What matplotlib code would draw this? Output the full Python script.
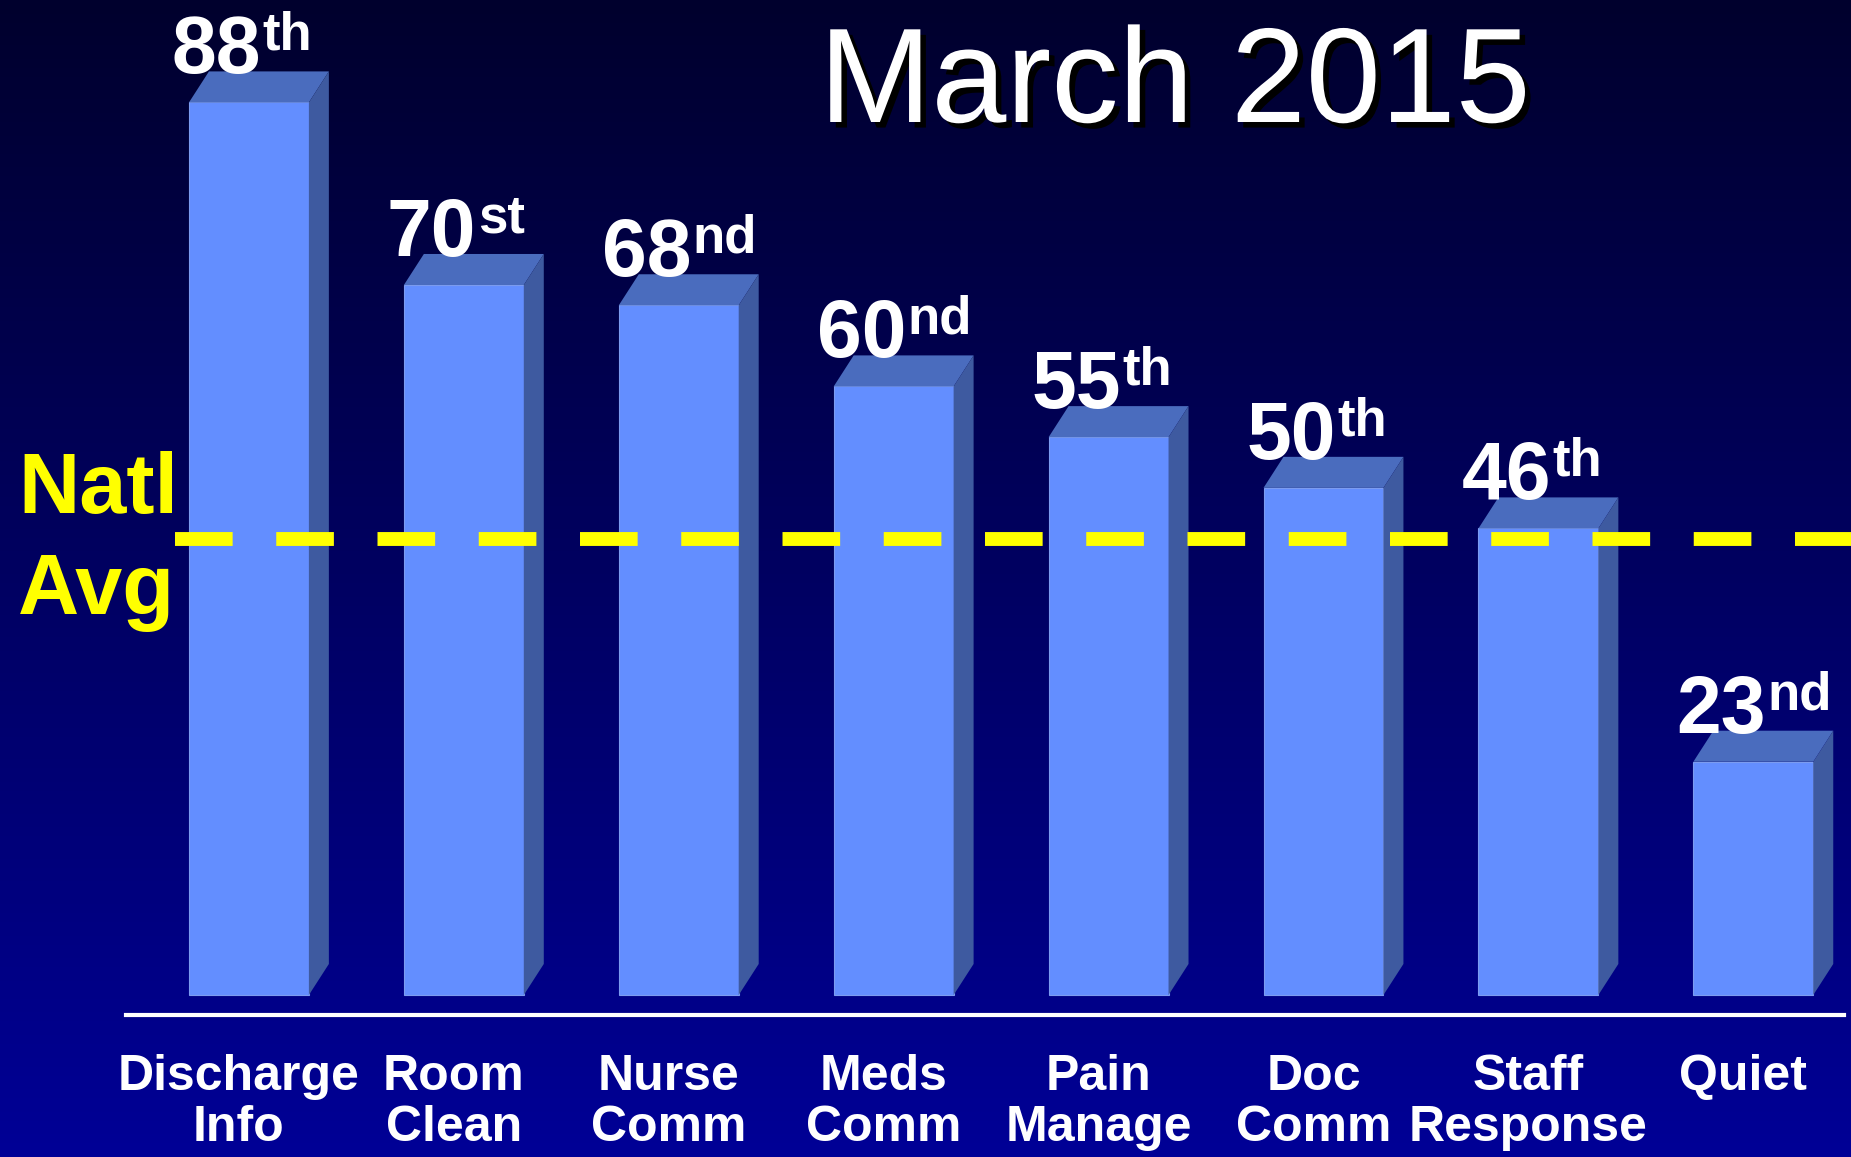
import numpy as np
import matplotlib
matplotlib.use("Agg")
import matplotlib.pyplot as plt
import matplotlib.patheffects as pe
from matplotlib.transforms import ScaledTranslation

# ---- data ----
categories = ["Discharge\nInfo", "Room\nClean", "Nurse\nComm", "Meds\nComm",
              "Pain\nManage", "Doc\nComm", "Staff\nResponse", "Quiet"]
percentiles = [88, 70, 68, 60, 55, 50, 46, 23]
suffixes = ["th", "st", "nd", "nd", "th", "th", "th", "nd"]
natl_avg = 45
title = "March 2015"

plt.rcParams['font.family'] = ['Liberation Sans', 'DejaVu Sans']

W, H = 1851, 1157
fig = plt.figure(figsize=(W / 100, H / 100), dpi=100)

# background gradient
bg = fig.add_axes([0, 0, 1, 1], zorder=-10)
grad = np.linspace(0, 1, 256).reshape(-1, 1)
top_c = np.array([0, 0, 45]) / 255
bot_c = np.array([0, 0, 150]) / 255
img = top_c[None, None, :] * (1 - grad[:, :, None]) + bot_c[None, None, :] * grad[:, :, None]
bg.imshow(img, aspect='auto', extent=[0, 1, 0, 1], origin='upper')
bg.set_axis_off()

ax = fig.add_axes([126 / W, 142 / H, (1844 - 126) / W, (1157 - 142) / H])
ax.patch.set_alpha(0)
ax.set_xlim(-0.572, 7.422)
ax.set_ylim(-1.97, 98.1)

front = "#638EFF"
topc = "#4A6CBE"
sidec = "#3E5AA0"
bw = 0.558
dx = 0.093
dy = 3.06

x = np.arange(len(categories))
ax.bar(x, percentiles, width=bw, color=front, edgecolor="#7C9CF0", linewidth=0.8, zorder=3)
for xi, h in zip(x, percentiles):
    x0, x1 = xi - bw / 2, xi + bw / 2
    ax.fill([x0, x0 + dx, x1 + dx, x1], [h, h + dy, h + dy, h], color=topc, zorder=3, lw=0)
    ax.fill([x1, x1 + dx, x1 + dx, x1], [0, dy, h + dy, h], color=sidec, zorder=3, lw=0)

# value labels
for xi, h, s in zip(x, percentiles, suffixes):
    ax.annotate(str(h), xy=(xi, h + dy - 0.2), xytext=(9, 0), textcoords='offset points',
                ha='right', va='baseline', fontsize=58, fontweight='bold', color='white', zorder=6)
    ax.annotate(s, xy=(xi, h + dy - 0.2), xytext=(10, 17), textcoords='offset points',
                ha='left', va='baseline', fontsize=38, fontweight='bold', color='white', zorder=6)

# national average dashed line
ax.axhline(natl_avg, xmin=(175 - 126) / 1718, xmax=1.005, clip_on=False, color="#FFFF00",
           lw=10, ls=(0, (4.15, 3.14)), dash_capstyle='butt', zorder=5)

# axes styling
for sp in ['top', 'left', 'right']:
    ax.spines[sp].set_visible(False)
ax.spines['bottom'].set_color('white')
ax.spines['bottom'].set_linewidth(3)
ax.set_yticks([])
ax.set_xticks(x)
ax.set_xticklabels(categories, fontsize=36, fontweight='bold', color='white',
                   linespacing=1.13)
ax.tick_params(axis='x', length=0, pad=28)
shift = ScaledTranslation(-10 / 100, 0, fig.dpi_scale_trans)
for lbl in ax.get_xticklabels():
    lbl.set_transform(lbl.get_transform() + shift)

# Natl Avg text
fig.text(18 / W, (H - 513) / H, "Natl", fontsize=61, fontweight='bold', color="#FFFF00",
         ha='left', va='baseline')
fig.text(18 / W, (H - 614) / H, "Avg", fontsize=61, fontweight='bold', color="#FFFF00",
         ha='left', va='baseline')

# title
fig.text(1175 / W, (H - 122) / H, title, fontsize=97, color='white', ha='center', va='baseline',
         path_effects=[pe.withSimplePatchShadow(offset=(4, -4), shadow_rgbFace='black', alpha=1.0)])

fig.savefig("out.png", dpi=100)
